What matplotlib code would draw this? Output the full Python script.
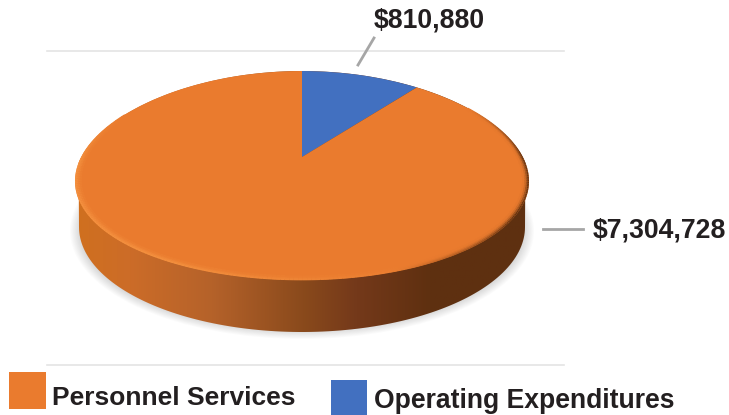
import numpy as np
import matplotlib
matplotlib.use("Agg")
import matplotlib.pyplot as plt
from matplotlib.collections import LineCollection
from matplotlib.colors import LinearSegmentedColormap, to_rgb
from matplotlib.patches import Ellipse, Polygon, Rectangle
from matplotlib.path import Path
from matplotlib.transforms import Transform

plt.rcParams['font.family'] = ['Liberation Sans', 'DejaVu Sans']

# data
categories = ["Personnel Services", "Operating Expenditures"]
amounts = [7304728, 810880]
colors = ['#EA7B2E', '#4270C0']
dark_text = '#231F20'


# tilts the unit circle of the pie into the perspective of the picture
class Tilt(Transform):
    input_dims = 2
    output_dims = 2

    def transform_non_affine(self, xy):
        xy = np.asarray(xy, dtype=float)
        w = 1 + 0.177 * xy[:, 1]
        return np.column_stack((302 + 223.4 * xy[:, 0] / w,
                                157 - 101.2 * xy[:, 1] / w + 6 * xy[:, 0] ** 2))

    def transform_path_non_affine(self, path):
        return Path(self.transform_non_affine(path.vertices), path.codes)


tilt = Tilt()


def rim(deg, r=1.0):
    a = np.radians(deg)
    return tilt.transform_non_affine(np.column_stack((r * np.cos(a), r * np.sin(a))))


fig = plt.figure(figsize=(7.29, 4.15), dpi=100)
ax = fig.add_axes([0, 0, 1, 1])

# pie, the blue slice starts at 12 o'clock and goes clockwise
wedges, _ = ax.pie(amounts[::-1], colors=colors[::-1], startangle=90, counterclock=False)
for w in wedges:
    w.set_transform(tilt + ax.transData)
    w.set_zorder(5)
    w.set_linewidth(0)
    w.set_clip_on(False)

ax.set_aspect('auto')

# gridlines
ax.plot([47, 564], [51, 51], color='#E4E4E4', lw=1.2, zorder=1)
ax.plot([47, 564], [365, 365], color='#E4E4E4', lw=1.2, zorder=1)

# soft shadow below the pie
for i in range(10):
    ax.add_patch(Ellipse((302, 231), 2 * (232 - i * 1.1), 2 * (108 - i * 0.9), fc='#000000', ec='none', alpha=0.014, zorder=2))

# side wall
t = np.linspace(180, 360, 120)
bottom_x = 302 + 223 * np.cos(np.radians(t))
bottom_y = 227 - 105 * np.sin(np.radians(t))
upper = rim(np.linspace(0, 180, 120))
wall = Polygon(np.vstack((np.column_stack((bottom_x, bottom_y)), upper)), closed=True, transform=ax.transData, fc='none', ec='none')
ax.add_patch(wall)
wall_cmap = LinearSegmentedColormap.from_list('wall', [
    (0.0, '#D0701F'), (0.12, '#CC6C28'), (0.3, '#B5622A'),
    (0.5, '#8A4A1C'), (0.62, '#74391A'), (0.78, '#5F3010'), (1.0, '#5E3010')])
im = ax.imshow(np.linspace(0, 1, 256)[None, :], cmap=wall_cmap, extent=[75, 530, 340, 60], aspect='auto', zorder=3)
im.set_clip_path(wall)

# bevel along the front edge of the top face
orange = np.array(to_rgb(colors[0]))
light = np.array(to_rgb('#F4913F'))
shade = np.array(to_rgb('#6A3612'))
ang = np.linspace(150, 395, 260)
for r, amt in [(0.996, 1.0), (0.989, 0.75), (0.982, 0.45), (0.975, 0.2)]:
    pts = rim(ang, r)
    segs = np.stack((pts[:-1], pts[1:]), axis=1)
    mid = (ang[:-1] + ang[1:]) / 2
    # light on the left and front, dark on the right
    lit = np.clip((300 - mid) / 60, 0, 1) * np.clip((mid - 150) / 30, 0, 1)
    dark = np.clip((mid - 290) / 40, 0, 1) * np.clip((395 - mid) / 30, 0, 1)
    cols = orange + (light - orange) * (lit * amt)[:, None] + (shade - orange) * (dark * amt ** 2)[:, None]
    ax.add_collection(LineCollection(segs, colors=np.clip(cols, 0, 1), linewidths=1.4, zorder=6))

# value labels with leader lines
ax.plot([358, 374], [65, 38], color='#A6A6A6', lw=2, zorder=4)
ax.plot([543, 583], [229, 229], color='#A6A6A6', lw=2, zorder=4)
ax.text(374, 20, f"${amounts[1]:,}", fontsize=19.2, fontweight='bold', color=dark_text, va='center', ha='left')
ax.text(593, 230, f"${amounts[0]:,}", fontsize=19.2, fontweight='bold', color=dark_text, va='center', ha='left')

# legend
ax.add_patch(Rectangle((9, 372), 37, 37, fc=colors[0], ec='none'))
ax.add_patch(Rectangle((331, 380), 36, 35, fc=colors[1], ec='none'))
ax.text(52, 405, categories[0], fontsize=19, fontweight='bold', color=dark_text, va='baseline', ha='left')
ax.text(374, 408, categories[1], fontsize=19.1, fontweight='bold', color=dark_text, va='baseline', ha='left')

ax.set_xlim(0, 729)
ax.set_ylim(415, 0)
ax.axis('off')

fig.savefig('out.png', dpi=100)
